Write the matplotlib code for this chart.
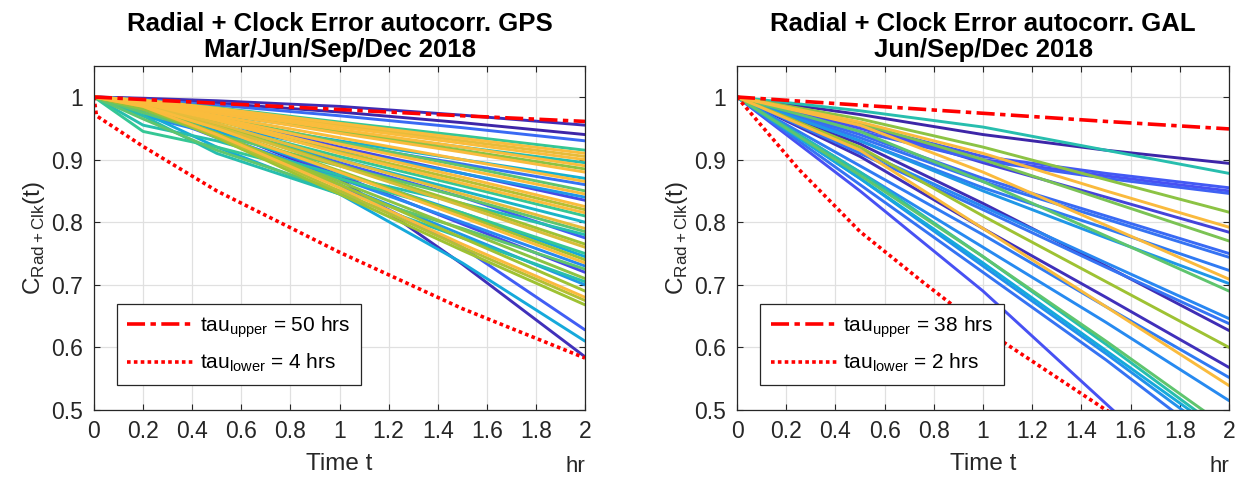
import numpy as np
import matplotlib
matplotlib.use("Agg")
import matplotlib.pyplot as plt
from matplotlib.colors import LinearSegmentedColormap

plt.rcParams['font.family'] = ['Liberation Sans', 'DejaVu Sans']
plt.rcParams['mathtext.fontset'] = 'custom'
plt.rcParams['mathtext.rm'] = 'Liberation Sans'

# ---------------- data ----------------
t_gps = [0.0, 0.2, 0.5, 1.0, 1.5, 2.0]
gps_curves = [
    [1, .998, .994, .985, .971, .955],
    [1, .997, .990, .976, .959, .940],
    [1, .996, .987, .970, .951, .930],
    [1, .995, .983, .960, .938, .915],
    [1, .995, .982, .958, .934, .910],
    [1, .994, .980, .955, .930, .905],
    [1, .994, .979, .952, .926, .900],
    [1, .990, .972, .945, .920, .895],
    [1, .993, .977, .948, .920, .890],
    [1, .992, .975, .945, .915, .885],
    [1, .992, .974, .942, .912, .880],
    [1, .985, .962, .930, .900, .870],
    [1, .991, .970, .935, .900, .865],
    [1, .990, .965, .925, .893, .860],
    [1, .990, .968, .928, .890, .850],
    [1, .990, .967, .925, .885, .845],
    [1, .985, .955, .915, .878, .840],
    [1, .990, .965, .920, .878, .835],
    [1, .990, .965, .917, .872, .825],
    [1, .989, .962, .912, .867, .820],
    [1, .990, .963, .910, .862, .815],
    [1, .985, .955, .905, .858, .810],
    [1, .980, .950, .900, .850, .800],
    [1, .988, .958, .900, .845, .790],
    [1, .975, .940, .890, .840, .785],
    [1, .955, .930, .875, .830, .780],
    [1, .985, .952, .895, .840, .775],
    [1, .988, .955, .892, .830, .765],
    [1, .987, .953, .890, .826, .760],
    [1, .945, .920, .870, .815, .750],
    [1, .980, .945, .880, .815, .745],
    [1, .985, .950, .882, .812, .740],
    [1, .986, .950, .880, .808, .735],
    [1, .970, .940, .870, .800, .730],
    [1, .965, .915, .850, .790, .725],
    [1, .985, .948, .875, .797, .720],
    [1, .980, .940, .865, .788, .710],
    [1, .970, .910, .845, .775, .705],
    [1, .980, .940, .860, .780, .700],
    [1, .985, .942, .860, .775, .690],
    [1, .985, .940, .855, .765, .680],
    [1, .985, .938, .850, .760, .675],
    [1, .984, .935, .845, .755, .668],
    [1, .980, .935, .860, .760, .628],
    [1, .975, .920, .845, .735, .610],
    [1, .985, .950, .870, .733, .585],
]
gps_color_level = [0.02, 0.0, 0.18, 0.5, 0.78, 0.72, 0.78, 0.45, 0.78, 0.6,
                   0.76, 0.38, 0.78, 0.2, 0.55, 0.78, 0.3, 0.1, 0.78, 0.65,
                   0.78, 0.5, 0.4, 0.72, 0.55, 0.45, 0.15, 0.62, 0.7, 0.5,
                   0.35, 0.62, 0.78, 0.25, 0.55, 0.1, 0.6, 0.45, 0.3, 0.62,
                   0.75, 0.65, 0.62, 0.15, 0.35, 0.03]

t_gps_upper = [0.0, 0.5, 1.0, 1.5, 2.0]
gps_upper = [1.0, 0.990, 0.980, 0.970, 0.961]
t_gps_lower = [0.0, 0.01, 0.2, 0.5, 1.0, 1.5, 2.0]
gps_lower = [1.0, 0.970, 0.921, 0.850, 0.752, 0.662, 0.583]

t_gal = [0.0, 0.5, 1.0, 1.5, 2.0]
gal_curves = [
    [1, .972, .940, .915, .894],
    [1, .978, .952, .915, .878],
    [1, .955, .905, .878, .855],
    [1, .950, .900, .874, .850],
    [1, .945, .898, .870, .846],
    [1, .965, .920, .868, .816],
    [1, .960, .910, .850, .792],
    [1, .955, .895, .840, .784],
    [1, .958, .900, .835, .770],
    [1, .940, .870, .810, .750],
    [1, .935, .865, .805, .744],
    [1, .930, .855, .790, .723],
    [1, .955, .880, .795, .709],
    [1, .930, .850, .775, .702],
    [1, .945, .865, .778, .690],
    [1, .915, .825, .735, .646],
    [1, .910, .820, .728, .638],
    [1, .925, .830, .730, .627],
    [1, .920, .810, .705, .600],
    [1, .905, .790, .680, .568],
    [1, .890, .780, .665, .552],
    [1, .915, .790, .665, .539],
    [1, .880, .760, .640, .515],
    [1, .850, .690, .510, .330],
    [1, .860, .720, .580, .430],
    [1, .870, .730, .590, .445],
    [1, .870, .735, .595, .455],
    [1, .880, .745, .605, .460],
    [1, .875, .745, .610, .470],
]
gal_color_level = [0.0, 0.45, 0.14, 0.12, 0.16, 0.6, 0.75, 0.08, 0.58, 0.18,
                   0.2, 0.22, 0.75, 0.3, 0.55, 0.25, 0.2, 0.02, 0.62, 0.03,
                   0.22, 0.76, 0.26, 0.12, 0.2, 0.28, 0.35, 0.45, 0.55]

t_gal_upper = [0.0, 0.5, 1.0, 1.5, 2.0]
gal_upper = [1.0, 0.987, 0.974, 0.961, 0.949]
t_gal_lower = [0.0, 0.25, 0.5, 0.75, 1.0, 1.25, 1.5, 1.75, 2.0]
gal_lower = [1.0, 0.885, 0.785, 0.706, 0.630, 0.565, 0.500, 0.445, 0.400]

titles = ["Radial + Clock Error autocorr. GPS\nMar/Jun/Sep/Dec 2018",
          "Radial + Clock Error autocorr. GAL\nJun/Sep/Dec 2018"]
upper_labels = [r"tau$_\mathregular{upper}$ = 50 hrs", r"tau$_\mathregular{upper}$ = 38 hrs"]
lower_labels = [r"tau$_\mathregular{lower}$ = 4 hrs", r"tau$_\mathregular{lower}$ = 2 hrs"]
xticks = [0, 0.2, 0.4, 0.6, 0.8, 1, 1.2, 1.4, 1.6, 1.8, 2]
xticklabels = ['0', '0.2', '0.4', '0.6', '0.8', '1', '1.2', '1.4', '1.6', '1.8', '2']
yticks = [0.5, 0.6, 0.7, 0.8, 0.9, 1.0]
yticklabels = ['0.5', '0.6', '0.7', '0.8', '0.9', '1']

# ---------------- style ----------------
parula_like = LinearSegmentedColormap.from_list("parula_like", [
    (0.00, (0.24, 0.15, 0.66)),
    (0.12, (0.28, 0.32, 0.96)),
    (0.25, (0.16, 0.53, 0.95)),
    (0.37, (0.07, 0.69, 0.84)),
    (0.50, (0.20, 0.78, 0.59)),
    (0.62, (0.62, 0.76, 0.20)),
    (0.75, (0.98, 0.73, 0.24)),
    (1.00, (0.99, 0.80, 0.20)),
])

fig = plt.figure(figsize=(12.41, 4.79), dpi=100)
W, H = 1241, 479
ax_pos = [(94, 65.7, 585, 410), (737, 65.7, 1229, 410)]
dark = (0.15, 0.15, 0.15)

panels = [
    (t_gps, gps_curves, gps_color_level, t_gps_upper, gps_upper, t_gps_lower, gps_lower),
    (t_gal, gal_curves, gal_color_level, t_gal_upper, gal_upper, t_gal_lower, gal_lower),
]

for i, (tt, curves, clev, tu, yu, tl, yl) in enumerate(panels):
    x0, y0, x1, y1 = ax_pos[i]
    ax = fig.add_axes([x0 / W, (H - y1) / H, (x1 - x0) / W, (y1 - y0) / H])
    order = np.argsort(clev, kind='stable')
    for k in order:
        ax.plot(tt, curves[k], color=parula_like(clev[k]), lw=2.1,
                solid_joinstyle='round', solid_capstyle='round')
    hu, = ax.plot(tu, yu, color=(1, 0, 0), lw=2.6, linestyle=(0, (5, 1.5, 1.5, 1.5)))
    hl, = ax.plot(tl, yl, color=(1, 0, 0), lw=2.6, linestyle=(0, (1, 0.9)))
    ax.set_xlim(0, 2)
    ax.set_ylim(0.5, 1.05)
    ax.set_xticks(xticks)
    ax.set_xticklabels(xticklabels)
    ax.set_yticks(yticks)
    ax.set_yticklabels(yticklabels)
    ax.grid(True, color=(0.88, 0.88, 0.88), lw=0.9)
    ax.set_axisbelow(True)
    ax.tick_params(direction='in', top=True, right=True, labelsize=16.5,
                   length=4, width=0.8, colors=dark)
    ax.tick_params(axis='x', pad=7.5)
    ax.tick_params(axis='y', pad=8)
    for sp in ax.spines.values():
        sp.set_color(dark)
        sp.set_linewidth(0.9)
    ax.set_title(titles[i], fontsize=18.5, fontweight='bold', pad=6, linespacing=1.1)
    ax.set_xlabel("Time t", fontsize=17.5, color=dark, labelpad=7)
    ax.set_ylabel(r"C$_\mathregular{Rad+Clk}$(t)", fontsize=17.5, color=dark, labelpad=3)
    ax.text(1.0, -0.163, "hr", transform=ax.transAxes, ha='right', va='center',
            fontsize=16, color=dark)
    leg = ax.legend([hu, hl], [upper_labels[i], lower_labels[i]], loc='lower left',
                    bbox_to_anchor=(0.047, 0.073), borderaxespad=0, fontsize=15,
                    handlelength=3.2, handletextpad=0.3, fancybox=False,
                    framealpha=1, edgecolor=dark, borderpad=0.5,
                    labelspacing=0.55)
    leg.get_frame().set_linewidth(0.9)

fig.savefig("out.png", dpi=100)
